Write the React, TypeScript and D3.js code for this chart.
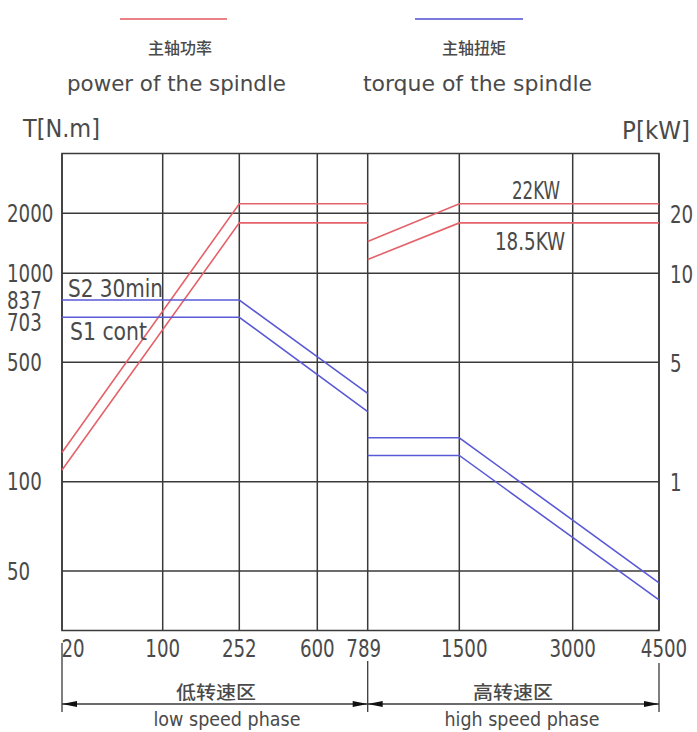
import React from "react";
import * as d3 from "d3";

// ---- data ----
const speedTicks = [20, 100, 252, 600, 789, 1500, 3000, 4500];
const torqueTicks = [50, 100, 500, 703, 837, 1000, 2000];
const torqueGrid = [50, 100, 500, 1000, 2000];
const torqueLabels = ["50", "100", "500", "703", "837", "1000", "2000"];
const powerTicks = [1, 5, 10, 20];

const lowSpeeds = [20, 252, 789];
const highSpeeds = [789, 1500, 4500];
const powerS2Low = [1.98, 21.6, 21.6];
const powerS1Low = [1.39, 18.4, 18.4];
const powerS2High = [15.3, 21.6, 21.6];
const powerS1High = [12.3, 18.4, 18.4];
const torqueS2Low = [837, 837, 396];
const torqueS1Low = [703, 703, 335];
const torqueS2High = [247, 247, 43.4];
const torqueS1High = [188, 188, 33.8];

// ---- layout ----
const W = 697;
const H = 732;
const top = 153.5;
const bottom = 630.5;
const xRange = [62, 162.7, 239.3, 317.3, 367.7, 459.3, 572.7, 659];
const yRange = [571, 481.7, 362.3, 317.3, 300, 273.3, 213.3];

const RED = "#e4626a";
const BLUE = "#5a5ad6";
const GRID = "#3a3a3a";
const TXT = "#4a4a4a";
const FONT = "'Liberation Sans Narrow', 'DejaVu Sans Condensed', 'DejaVu Sans', sans-serif";
const CJK = "'Noto Sans CJK SC', sans-serif";
const DIGIT_W = 11.6;

export default function App() {
  const x = d3.scaleLinear().domain(speedTicks).range(xRange);
  const y = d3.scaleLinear().domain(torqueTicks).range(yRange);
  const yP = d3.scaleLinear().domain(torqueTicks.map((d) => d / 100)).range(yRange);
  const left = x(20);
  const right = x(4500);

  const lineT = d3.line<[number, number]>().x((d) => x(d[0])).y((d) => y(d[1]));
  const lineP = d3.line<[number, number]>().x((d) => x(d[0])).y((d) => yP(d[1]));
  const zip = (a: number[], b: number[]) => a.map((v, i) => [v, b[i]] as [number, number]);

  const powerSeries = [
    zip(lowSpeeds, powerS2Low),
    zip(lowSpeeds, powerS1Low),
    zip(highSpeeds, powerS2High),
    zip(highSpeeds, powerS1High),
  ];
  const torqueSeries = [
    zip(lowSpeeds, torqueS2Low),
    zip(lowSpeeds, torqueS1Low),
    zip(highSpeeds, torqueS2High),
    zip(highSpeeds, torqueS1High),
  ];

  const xLabelPos: Record<number, number> = { 20: 11, 789: -4, 1500: 5, 4500: 5 };
  const dimY = 704;
  const arrow = (tipX: number, dir: number) =>
    `M${tipX},${dimY} L${tipX + dir * 15},${dimY - 3} L${tipX + dir * 15},${dimY + 3} Z`;

  const num = (s: string) => ({
    textLength: s.length * DIGIT_W,
    lengthAdjust: "spacingAndGlyphs",
    fontFamily: FONT,
    fontSize: 24,
    fill: TXT,
  });

  return (
    <svg width={W} height={H} style={{ position: "absolute", left: 0, top: 0, background: "#fff" }}>
      {/* legend */}
      <line x1={120} x2={227} y1={19} y2={19} stroke={RED} strokeWidth={2} opacity={0.8} />
      <line x1={415} x2={523} y1={19} y2={19} stroke={BLUE} strokeWidth={2} opacity={0.8} />
      <text x={180} y={54} textAnchor="middle" fontFamily={CJK} fontWeight={500} fontSize={16} fill={TXT} textLength={64} lengthAdjust="spacingAndGlyphs">主轴功率</text>
      <text x={474} y={54} textAnchor="middle" fontFamily={CJK} fontWeight={500} fontSize={16} fill={TXT} textLength={64} lengthAdjust="spacingAndGlyphs">主轴扭矩</text>
      <text x={67} y={91} fontFamily={FONT} fontSize={22} fill={TXT} textLength={219} lengthAdjust="spacingAndGlyphs">power of the spindle</text>
      <text x={363} y={91} fontFamily={FONT} fontSize={22} fill={TXT} textLength={229} lengthAdjust="spacingAndGlyphs">torque of the spindle</text>

      {/* axis titles */}
      <text x={23} y={137} fontFamily={FONT} fontSize={25} fill={TXT} textLength={77} lengthAdjust="spacingAndGlyphs">T[N.m]</text>
      <text x={622} y={139} fontFamily={FONT} fontSize={25} fill={TXT} textLength={68} lengthAdjust="spacingAndGlyphs">P[kW]</text>

      {/* grid */}
      <g stroke={GRID} strokeWidth={1.5} fill="none">
        {torqueGrid.map((t) => (
          <line key={"h" + t} x1={left} x2={right} y1={y(t)} y2={y(t)} />
        ))}
        {speedTicks.map((s) => (
          <line key={"v" + s} x1={x(s)} x2={x(s)} y1={top} y2={bottom} />
        ))}
        <rect x={left} y={top} width={right - left} height={bottom - top} />
      </g>

      {/* series */}
      <g fill="none" strokeWidth={1.6}>
        {powerSeries.map((s, i) => (
          <path key={"p" + i} d={lineP(s) || ""} stroke={RED} />
        ))}
        {torqueSeries.map((s, i) => (
          <path key={"t" + i} d={lineT(s) || ""} stroke={BLUE} />
        ))}
      </g>

      {/* left tick labels */}
      {torqueTicks.map((t, i) => (
        <text key={"lt" + t} x={7} y={y(t) + 8.5 + (t === 703 ? 5 : 0)} {...num(torqueLabels[i])}>
          {torqueLabels[i]}
        </text>
      ))}
      {/* right tick labels */}
      {powerTicks.map((p) => (
        <text key={"rt" + p} x={670} y={yP(p) + 9.5} {...num(String(p))}>
          {p}
        </text>
      ))}
      {/* x tick labels */}
      {speedTicks.map((s) => (
        <text key={"xt" + s} x={x(s) + (xLabelPos[s] || 0)} y={657} textAnchor="middle" {...num(String(s))}>
          {s}
        </text>
      ))}

      {/* annotations */}
      <text x={512} y={199} fontFamily={FONT} fontSize={24} fill={TXT} textLength={48} lengthAdjust="spacingAndGlyphs">22KW</text>
      <text x={495} y={250} fontFamily={FONT} fontSize={24} fill={TXT} textLength={70} lengthAdjust="spacingAndGlyphs">18.5KW</text>
      <text x={68} y={297} fontFamily={FONT} fontSize={24} fill={TXT} textLength={95} lengthAdjust="spacingAndGlyphs">S2 30min</text>
      <text x={70} y={340} fontFamily={FONT} fontSize={24} fill={TXT} textLength={77} lengthAdjust="spacingAndGlyphs">S1 cont</text>

      {/* speed phase dimensions */}
      <g stroke={GRID} strokeWidth={1.3}>
        <line x1={x(20)} x2={x(20)} y1={643} y2={712} />
        <line x1={x(789)} x2={x(789)} y1={661} y2={712} />
        <line x1={x(4500)} x2={x(4500)} y1={663} y2={712} />
        <line x1={x(20)} x2={x(4500)} y1={dimY} y2={dimY} />
      </g>
      <g fill="#111">
        <path d={arrow(x(20), 1)} />
        <path d={arrow(x(789), -1)} />
        <path d={arrow(x(789), 1)} />
        <path d={arrow(x(4500), -1)} />
      </g>
      <text x={216} y={699} textAnchor="middle" fontFamily={CJK} fontWeight={500} fontSize={18} fill={TXT} textLength={80} lengthAdjust="spacingAndGlyphs">低转速区</text>
      <text x={513} y={699} textAnchor="middle" fontFamily={CJK} fontWeight={500} fontSize={18} fill={TXT} textLength={80} lengthAdjust="spacingAndGlyphs">高转速区</text>
      <text x={227} y={726} textAnchor="middle" fontFamily={FONT} fontSize={19} fill={TXT} textLength={147} lengthAdjust="spacingAndGlyphs">low speed phase</text>
      <text x={522} y={726} textAnchor="middle" fontFamily={FONT} fontSize={19} fill={TXT} textLength={155} lengthAdjust="spacingAndGlyphs">high speed phase</text>
    </svg>
  );
}
